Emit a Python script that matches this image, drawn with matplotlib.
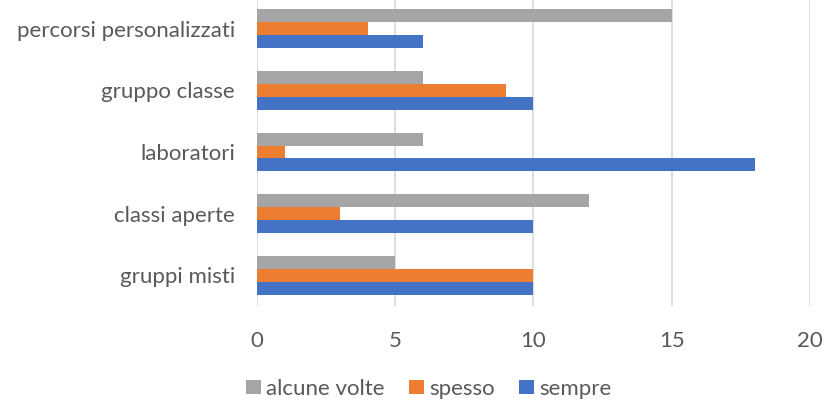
import matplotlib
matplotlib.use("Agg")
import matplotlib.pyplot as plt
import numpy as np

# dati (dal basso verso l'alto)
categorie = ["gruppi misti", "classi aperte", "laboratori", "gruppo classe", "percorsi personalizzati"]
sempre = [10, 10, 18, 10, 6]
spesso = [10, 3, 1, 9, 4]
alcune_volte = [5, 12, 6, 6, 15]
x_ticks = [0, 5, 10, 15, 20]

plt.rcParams["font.family"] = ["Lato", "DejaVu Sans"]

fig = plt.figure(figsize=(8.25, 4.0), dpi=100)
ax = fig.add_axes([0.3115, 0.235, 0.6703, 0.77])

y = np.arange(len(categorie))
h = 0.211
ax.barh(y - h, sempre, height=h, color="#4472C4", label="sempre", zorder=3)
ax.barh(y, spesso, height=h, color="#ED7D31", label="spesso", zorder=3)
ax.barh(y + h, alcune_volte, height=h, color="#A5A5A5", label="alcune volte", zorder=3)

ax.set_xlim(0, 20)
ax.set_ylim(-0.5, len(categorie) - 0.5)
ax.set_xticks(x_ticks)
ax.set_yticks(y)
ax.set_yticklabels(categorie)
ax.grid(axis="x", color="#D9D9D9", linewidth=1.2, zorder=0)
for s in ax.spines.values():
    s.set_visible(False)
ax.tick_params(length=0, labelsize=16, colors="#595959")
ax.tick_params(axis="y", pad=16)
ax.tick_params(axis="x", pad=18)

handles, labels = ax.get_legend_handles_labels()
leg = fig.legend(handles[::-1], labels[::-1], loc="center", bbox_to_anchor=(0.52, 0.028),
                 ncol=3, frameon=False, fontsize=16, handlelength=0.65, handleheight=0.65,
                 handletextpad=0.25, columnspacing=1.1)
for t in leg.get_texts():
    t.set_color("#595959")

fig.savefig("out.png", dpi=100)
